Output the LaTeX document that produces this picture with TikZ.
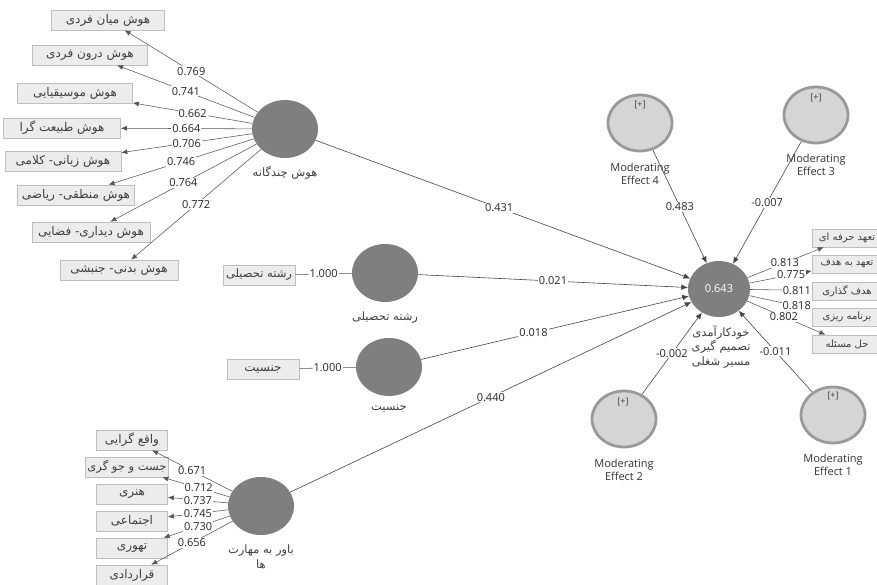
\documentclass[tikz,border=0pt]{standalone}
\usepackage{fontspec}
\setmainfont{Open Sans}
\newfontfamily\fa[Script=Arabic]{DejaVu Sans}
\TeXXeTstate=1
\usetikzlibrary{arrows,arrows.meta,positioning,shapes}
\definecolor{latgray}{HTML}{7F7F7F}
\definecolor{modfill}{HTML}{D5D5D5}
\definecolor{modline}{HTML}{9A9A9A}
\definecolor{boxfill}{HTML}{ECECEC}
\definecolor{boxline}{HTML}{BEBEBE}
\definecolor{edgecol}{HTML}{555555}
\newcommand{\fatext}[1]{{\fa\beginR #1\endR}}

\begin{document}
\begin{tikzpicture}[x=1pt,y=-1pt,
  latent/.style={ellipse,fill=latgray,minimum width=66pt,minimum height=58pt,inner sep=0pt},
  moder/.style={ellipse,fill=modfill,draw=modline,line width=2.8pt,minimum width=64pt,minimum height=56pt,inner sep=0pt},
  ind/.style={rectangle,fill=boxfill,draw=boxline,line width=0.6pt,minimum height=20pt,inner sep=2pt,font=\fontsize{12}{13}\selectfont,text=black!75},
  rind/.style={ind,minimum width=70pt,minimum height=18pt,font=\fontsize{10}{11}\selectfont},
  coef/.style={fill=white,inner sep=1pt,font=\fontsize{11}{12}\selectfont,text=black!85},
  lvname/.style={font=\fontsize{11.5}{14.5}\selectfont,align=center,text=black!75},
  mname/.style={font=\fontsize{11}{13}\selectfont,align=center,text=black!80},
  plus/.style={font=\fontsize{9}{10}\selectfont,text=black!75},
  load/.style={draw=edgecol,line width=0.55pt,-{Latex[length=6pt,width=5pt]}},
  struct/.style={draw=edgecol!80!black,line width=0.6pt,-{Latex[length=6.5pt,width=5.5pt]}},
  single/.style={draw=edgecol,line width=0.55pt}]
\useasboundingbox (0,0) rectangle (877,585);

% latent variables
\node[latent] (hc) at (285,129) {};
\node[latent] (rt) at (385,273) {};
\node[latent] (js) at (389,367) {};
\node[latent] (bm) at (261,506) {};
\node[latent,minimum width=62pt,minimum height=56pt,text=white,font=\fontsize{11}{12}\selectfont] (se) at (719,289) {0.643};
\node[lvname] (hclbl) at (285,173) {\fatext{هوش چندگانه}};
\node[lvname] (rtlbl) at (385,318) {\fatext{رشته تحصیلی}};
\node[lvname] (jslbl) at (389,409) {\fatext{جنسیت}};
\node[lvname] (bmlbl) at (261,557) {\fatext{باور به مهارت}\\\fatext{ها}};
\node[lvname] (selbl) at (721,347) {\fatext{خودکارآمدی}\\\fatext{تصمیم گیری}\\\fatext{مسیر شغلی}};

% moderating effects
\node[moder] (me4) at (640,123) {};
\node[moder] (me3) at (816,115) {};
\node[moder] (me2) at (624,419) {};
\node[moder] (me1) at (833,415) {};
\node[plus] at (640,105) {[+]};
\node[plus] at (816,98) {[+]};
\node[plus] at (623,402) {[+]};
\node[plus] at (833,396) {[+]};
\node[mname] (me4lbl) at (640,174) {Moderating\\Effect 4};
\node[mname] (me3lbl) at (816,165) {Moderating\\Effect 3};
\node[mname] (me2lbl) at (624,470) {Moderating\\Effect 2};
\node[mname] (me1lbl) at (833,465) {Moderating\\Effect 1};

% indicators
\node[ind,minimum width=113pt] (hc1) at (108,20) {\fatext{هوش میان فردی}};
\node[ind,minimum width=115pt] (hc2) at (90,55) {\fatext{هوش درون فردی}};
\node[ind,minimum width=115pt] (hc3) at (75,93) {\fatext{هوش موسیقیایی}};
\node[ind,minimum width=117pt] (hc4) at (62,128) {\fatext{هوش طبیعت گرا}};
\node[ind,minimum width=116pt] (hc5) at (63,161) {\fatext{هوش زبانی- کلامی}};
\node[ind,minimum width=117pt] (hc6) at (76,195) {\fatext{هوش منطقی- ریاضی}};
\node[ind,minimum width=118pt] (hc7) at (91,232) {\fatext{هوش دیداری- فضایی}};
\node[ind,minimum width=118pt] (hc8) at (119,270) {\fatext{هوش بدنی- جنبشی}};
\node[ind,minimum width=72pt,font=\fontsize{11.5}{13}\selectfont] (rt1) at (259,275) {\fatext{رشته تحصیلی}};
\node[ind,minimum width=72pt] (js1) at (263,369) {\fatext{جنسیت}};
\node[ind,minimum width=71pt] (bm1) at (132,440) {\fatext{واقع گرایی}};
\node[ind,minimum width=83pt,font=\fontsize{11.5}{13}\selectfont] (bm2) at (127,467) {\fatext{جست و جو گری}};
\node[ind,minimum width=71pt] (bm3) at (132,494) {\fatext{هنری}};
\node[ind,minimum width=71pt] (bm4) at (132,521) {\fatext{اجتماعی}};
\node[ind,minimum width=71pt] (bm5) at (132,548) {\fatext{تهوری}};
\node[ind,minimum width=71pt] (bm6) at (132,575) {\fatext{قراردادی}};
\node[rind] (se1) at (847,238) {\fatext{تعهد حرفه ای}};
\node[rind] (se2) at (847,264) {\fatext{تعهد به هدف}};
\node[rind] (se3) at (847,291) {\fatext{هدف گذاری}};
\node[rind] (se4) at (847,317) {\fatext{برنامه ریزی}};
\node[rind] (se5) at (847,344) {\fatext{حل مسئله}};

% outer loadings
\draw[load] (hc) -- node[coef]{0.769} (hc1);
\draw[load] (hc) -- node[coef]{0.741} (hc2);
\draw[load] (hc) -- node[coef]{0.662} (hc3);
\draw[load] (hc) -- node[coef]{0.664} (hc4);
\draw[load] (hc) -- node[coef]{0.706} (hc5);
\draw[load] (hc) -- node[coef]{0.746} (hc6);
\draw[load] (hc) -- node[coef]{0.764} (hc7);
\draw[load] (hc) -- node[coef]{0.772} (hc8);
\draw[single] (rt1) -- node[coef]{1.000} (rt);
\draw[single] (js1) -- node[coef]{1.000} (js);
\draw[load] (bm) -- node[coef]{0.671} (bm1);
\draw[load] (bm) -- node[coef,pos=0.46]{0.712} (bm2);
\draw[load] (bm) -- node[coef]{0.737} (bm3);
\draw[load] (bm) -- node[coef]{0.745} (bm4);
\draw[load] (bm) -- node[coef,pos=0.48]{0.730} (bm5);
\draw[load] (bm) -- node[coef]{0.656} (bm6);
\draw[load] (se) -- node[coef,pos=0.49]{0.813} (se1);
\draw[load] (se) -- node[coef,pos=0.67]{0.775} (se2);
\draw[load] (se) -- node[coef,pos=0.76]{0.811} (se3);
\draw[load] (se) -- node[coef,pos=0.76]{0.818} (se4);
\draw[load] (se) -- node[coef,pos=0.47]{0.802} (se5);

% inner paths
\draw[struct] (hc) -- node[coef,pos=0.49]{0.431} (se);
\draw[struct] (rt) -- node[coef]{0.021} (se);
\draw[struct] (js) -- node[coef,pos=0.42]{0.018} (se);
\draw[struct] (bm) -- node[coef]{0.440} (se);
\draw[struct] (me4) -- node[coef]{0.483} (se);
\draw[struct] (me3) -- node[coef]{-0.007} (se);
\draw[struct] (me2) -- node[coef]{-0.002} (se);
\draw[struct] (me1) -- node[coef]{-0.011} (se);
\end{tikzpicture}
\end{document}
